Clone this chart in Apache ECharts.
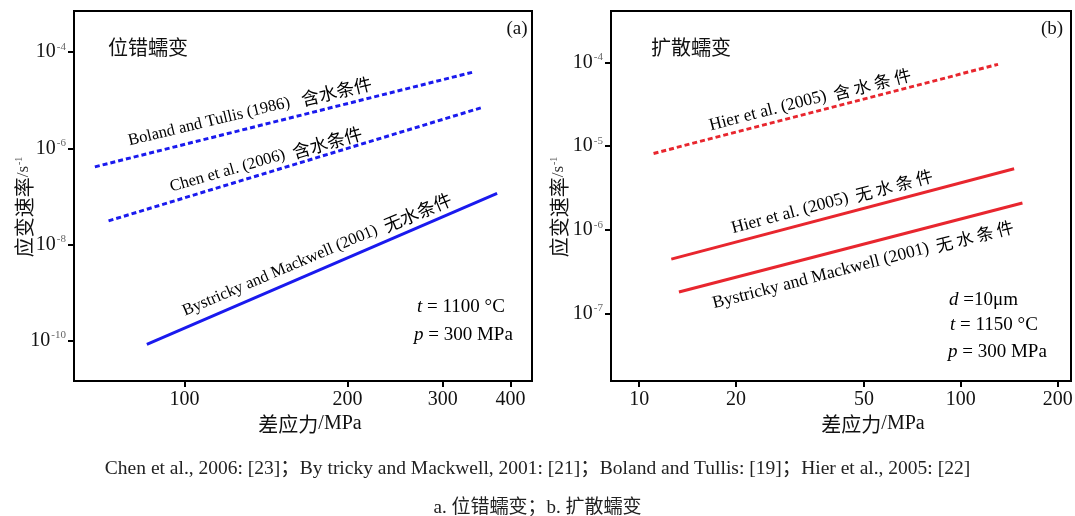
<!DOCTYPE html>
<html>
<head>
<meta charset="utf-8">
<script src="https://cdn.jsdelivr.net/npm/echarts@6/dist/echarts.min.js"></script>
<style>
    html, body { margin: 0; padding: 0; background: #fff; }
    #main { width: 1075px; height: 516px; }
</style>
</head>
<body>
<div id="main"></div>
<script>
// (a) 位错蠕变 —— 差应力(MPa) / 应变速率(s^-1)
var bolandX = [68.3, 339.8];
var bolandY = [4.11e-7, 3.80e-5];
var chenX = [72.4, 353.2];
var chenY = [3.09e-8, 6.97e-6];
var bystrickyAX = [85.2, 378];
var bystrickyAY = [8.37e-11, 1.15e-7];

// (b) 扩散蠕变
var hierWetX = [11.08, 130.5];
var hierWetY = [8.17e-6, 9.50e-5];
var hierDryX = [12.58, 146.4];
var hierDryY = [4.44e-7, 5.35e-6];
var bystrickyBX = [13.29, 155.4];
var bystrickyBY = [1.80e-7, 2.09e-6];

// 刻度
var xTicksA = [100, 200, 300, 400];
var yTicksA = [1e-4, 1e-6, 1e-8, 1e-10];
var xTicksB = [10, 20, 50, 100, 200];
var yTicksB = [1e-4, 1e-5, 1e-6, 1e-7];

var BLUE = '#1a1aee';
var RED = '#e8262e';
var SERIF = 'Liberation Serif';
var CJK = 'Noto Sans CJK SC';

function pairs(xs, ys) {
    return xs.map(function (x, i) { return [x, ys[i]]; });
}

function xAxis(grid, min, max, ticks, nameShift) {
    return {
        type: 'log', logBase: 10, gridIndex: grid, min: min, max: max,
        axisLine: { show: true, lineStyle: { color: '#000', width: 2 } },
        axisTick: { show: true, customValues: ticks, length: 6, lineStyle: { color: '#000', width: 2 } },
        axisLabel: { customValues: ticks, margin: 9, color: '#111', fontFamily: SERIF, fontSize: 20 },
        splitLine: { show: false },
        minorTick: { show: false },
        name: '{cn|差应力}{en|/MPa}', nameLocation: 'middle', nameGap: 33, nameMoveOverlap: false,
        nameTextStyle: {
            fontSize: 20,
            padding: [0, 0, 0, nameShift],
            rich: {
                cn: { fontFamily: CJK, fontSize: 20, color: '#111' },
                en: { fontFamily: SERIF, fontSize: 20, color: '#111' }
            }
        }
    };
}

function yAxis(grid, min, max, ticks, gap) {
    return {
        type: 'log', logBase: 10, gridIndex: grid, min: min, max: max,
        axisLine: { show: true, lineStyle: { color: '#000', width: 2 } },
        axisTick: { show: true, customValues: ticks, length: 6, lineStyle: { color: '#000', width: 2 } },
        axisLabel: {
            customValues: ticks, margin: 8, color: '#111', fontFamily: SERIF, fontSize: 20,
            formatter: function (v) {
                return '10{sup|' + Math.round(Math.log10(v)) + '}';
            },
            rich: {
                sup: { fontFamily: SERIF, fontSize: 11, color: '#666', padding: [0, 0, 10, 1] }
            }
        },
        splitLine: { show: false },
        minorTick: { show: false },
        name: '{cn|应变速率}{en|/s}{sup|-1}', nameLocation: 'middle', nameGap: gap, nameRotate: 90,
        nameMoveOverlap: false,
        nameTextStyle: {
            padding: [0, 22, 0, 0],
            rich: {
                cn: { fontFamily: CJK, fontSize: 20, color: '#111' },
                en: { fontFamily: SERIF, fontSize: 17, color: '#333' },
                sup: { fontFamily: SERIF, fontSize: 10, color: '#555', padding: [0, 0, 10, 1] }
            }
        }
    };
}

function lineSeries(name, x, y, grid, color, dashed) {
    return {
        name: name, type: 'line', xAxisIndex: grid, yAxisIndex: grid,
        data: pairs(x, y), showSymbol: false, symbol: 'none', silent: true,
        lineStyle: { color: color, width: 3, type: dashed ? [5, 3] : 'solid' }
    };
}

// 斜向注释文字
var labelRich = {
    en: { fontFamily: SERIF, fontSize: 16.5, color: '#111' },
    cn: { fontFamily: CJK, fontSize: 18, color: '#111' },
    enb: { fontFamily: SERIF, fontSize: 17.5, color: '#111' },
    cnb: { fontFamily: CJK, fontSize: 17, color: '#111' },
    it: { fontFamily: SERIF, fontSize: 19, fontStyle: 'italic', color: '#111' },
    n: { fontFamily: SERIF, fontSize: 19, color: '#111' }
};

function note(text, x, y, deg, align) {
    return {
        type: 'text', x: x, y: y, rotation: deg * Math.PI / 180, silent: true,
        style: { text: text, rich: labelRich, align: align || 'center', verticalAlign: 'middle' }
    };
}

function plain(text, x, y, font, align) {
    return {
        type: 'text', x: x, y: y, silent: true,
        style: { text: text, font: font, fill: '#111', align: align || 'left', verticalAlign: 'middle' }
    };
}

var main = document.getElementById('main');
var myChart = echarts.init(main, null, { renderer: 'canvas' });

var option = {
    animation: false,
    backgroundColor: '#fff',
    title: [
        {
            text: 'Chen et al., 2006: [23]；By tricky and Mackwell, 2001: [21]；Boland and Tullis: [19]；Hier et al., 2005: [22]',
            left: 'center', top: 454,
            textStyle: { fontFamily: SERIF + ', ' + CJK, fontSize: 19.5, fontWeight: 'normal', color: '#222' }
        },
        {
            text: 'a. 位错蠕变；b. 扩散蠕变',
            left: 'center', top: 494,
            textStyle: { fontFamily: SERIF + ', ' + CJK, fontSize: 19, fontWeight: 'normal', color: '#222' }
        }
    ],
    grid: [
        { left: 74, top: 11, width: 458, height: 370, show: true, borderColor: '#000', borderWidth: 2, backgroundColor: '#fff', outerBoundsMode: 'none' },
        { left: 611, top: 11, width: 460, height: 370, show: true, borderColor: '#000', borderWidth: 2, backgroundColor: '#fff', outerBoundsMode: 'none' }
    ],
    xAxis: [
        xAxis(0, 62.5, 438.5, xTicksA, 14),
        xAxis(1, 8.17, 220, xTicksB, 64)
    ],
    yAxis: [
        yAxis(0, Math.pow(10, -10.841), Math.pow(10, -3.144), yTicksA, 40),
        yAxis(1, Math.pow(10, -7.81), Math.pow(10, -3.384), yTicksB, 42)
    ],
    series: [
        lineSeries('Boland and Tullis (1986)', bolandX, bolandY, 0, BLUE, true),
        lineSeries('Chen et al. (2006)', chenX, chenY, 0, BLUE, true),
        lineSeries('Bystricky and Mackwell (2001)', bystrickyAX, bystrickyAY, 0, BLUE, false),
        lineSeries('Hier et al. (2005) 含水', hierWetX, hierWetY, 1, RED, true),
        lineSeries('Hier et al. (2005) 无水', hierDryX, hierDryY, 1, RED, false),
        lineSeries('Bystricky and Mackwell (2001) b', bystrickyBX, bystrickyBY, 1, RED, false)
    ],
    graphic: [
        plain('位错蠕变', 108, 47, '20px ' + CJK),
        plain('(a)', 517, 29, '19px ' + SERIF, 'center'),
        note('{en|Boland and Tullis (1986)}{cn|   含水条件}', 250, 112, 13.5),
        note('{en|Chen et al. (2006)}{cn|  含水条件}', 266, 160, 16),
        note('{en|Bystricky and Mackwell (2001)}{cn|  无水条件}', 317, 255, 23),
        note('{it|t}{n| = 1100 °C}', 417, 307, 0, 'left'),
        note('{it|p}{n| = 300 MPa}', 414, 335, 0, 'left'),

        plain('扩散蠕变', 651, 47, '20px ' + CJK),
        plain('(b)', 1052, 29, '19px ' + SERIF, 'center'),
        note('{enb|Hier et al. (2005)}{cnb|  含 水 条 件}', 810, 100, 14.5),
        note('{enb|Hier et al. (2005)}{cnb|  无 水 条 件}', 832, 202, 15),
        note('{enb|Bystricky and Mackwell (2001)}{cnb|  无 水 条 件}', 863, 265, 14.5),
        note('{it|d}{n| =10μm}', 949, 300, 0, 'left'),
        note('{it|t}{n| = 1150 °C}', 950, 325, 0, 'left'),
        note('{it|p}{n| = 300 MPa}', 948, 352, 0, 'left')
    ]
};

window.onresize = function () {
    myChart.resize();
};
myChart.setOption(option);
</script>
</body>
</html>
